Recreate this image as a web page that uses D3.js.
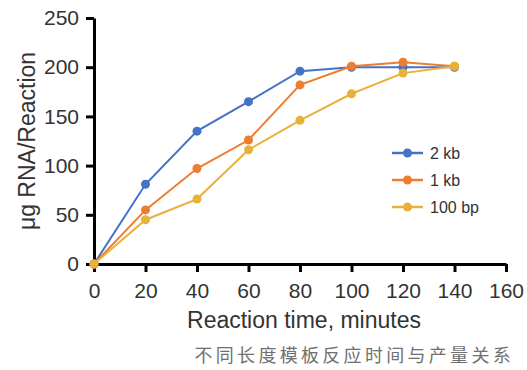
<!DOCTYPE html>
<html>
<head>
<meta charset="utf-8">
<script src="https://cdn.jsdelivr.net/npm/d3@7"></script>
<style>
  body { margin: 0; background: #fff; }
  text { font-family: Arial, "Liberation Sans", sans-serif; fill: #333; }
</style>
</head>
<body>
<div id="chart-container"></div>
<script>
/* Yield vs reaction time for different template lengths */

const minutes = [0, 20, 40, 60, 80, 100, 120, 140];
const kb2 = [0, 81, 135, 165, 196, 200, 200, 200];
const kb1 = [0, 55, 97, 126, 182, 201, 205, 201];
const bp100 = [0, 45, 66, 116, 146, 173, 194, 201];
const seriesNames = ["2 kb", "1 kb", "100 bp"];
const xTicks = [0, 20, 40, 60, 80, 100, 120, 140, 160];
const yTicks = [0, 50, 100, 150, 200, 250];

function create_chart() {
  let height = 370,
    width = 527,
    margin = { top: 18, right: 21, bottom: 106, left: 94 };

  const svg = d3
    .select("#chart-container")
    .append("svg")
    .attr("width", width)
    .attr("height", height);

  let x = d3
    .scaleLinear()
    .domain([0, 160])
    .range([margin.left, width - margin.right]);

  let y = d3
    .scaleLinear()
    .domain([0, 250])
    .range([height - margin.bottom, margin.top]);

  let color = d3
    .scaleOrdinal()
    .domain(seriesNames)
    .range(["#4472C4", "#ED7D31", "#E9B13A"]);

  let series = [kb2, kb1, bp100].map((vals, i) => ({
    name: seriesNames[i],
    values: vals.map((v, j) => ({ t: minutes[j], v: v })),
  }));

  // axes
  const xAxis = svg
    .append("g")
    .attr("transform", `translate(0,${height - margin.bottom})`)
    .call(d3.axisBottom(x).tickValues(xTicks).tickSize(8).tickSizeOuter(0).tickPadding(11));

  const yAxis = svg
    .append("g")
    .attr("transform", `translate(${margin.left},0)`)
    .call(d3.axisLeft(y).tickValues(yTicks).tickSize(8).tickSizeOuter(0).tickPadding(7));

  [xAxis, yAxis].forEach((g) => {
    g.select(".domain").attr("stroke", "#000").attr("stroke-width", 3);
    g.selectAll(".tick line").attr("stroke", "#000").attr("stroke-width", 3);
    g.selectAll(".tick text")
      .attr("font-family", "Arial, 'Liberation Sans', sans-serif")
      .attr("font-size", 21)
      .attr("fill", "#333");
  });

  let line = d3
    .line()
    .x((d) => x(d.t))
    .y((d) => y(d.v));

  series.forEach((s) => {
    svg
      .append("path")
      .datum(s.values)
      .attr("d", line)
      .attr("fill", "none")
      .attr("stroke", color(s.name))
      .attr("stroke-width", 2);

    svg
      .append("g")
      .selectAll("circle")
      .data(s.values)
      .join("circle")
      .attr("cx", (d) => x(d.t))
      .attr("cy", (d) => y(d.v))
      .attr("r", 4.5)
      .attr("fill", color(s.name));
  });

  // legend
  let legend = svg
    .append("g")
    .selectAll("g")
    .data(seriesNames)
    .join("g")
    .attr("transform", (d, i) => `translate(392,${153 + i * 27})`);

  legend
    .append("line")
    .attr("x1", 0)
    .attr("x2", 31)
    .attr("stroke", (d) => color(d))
    .attr("stroke-width", 2.5);

  legend
    .append("circle")
    .attr("cx", 15.5)
    .attr("r", 4.5)
    .attr("fill", (d) => color(d));

  legend
    .append("text")
    .attr("x", 38)
    .attr("dy", "0.35em")
    .attr("font-size", 16)
    .text((d) => d);

  // axis titles
  svg
    .append("text")
    .attr("text-anchor", "middle")
    .attr("x", 304)
    .attr("y", 328)
    .attr("font-size", 23)
    .text("Reaction time, minutes");

  svg
    .append("text")
    .attr("text-anchor", "middle")
    .attr("transform", `translate(35,${(margin.top + height - margin.bottom) / 2}) rotate(-90)`)
    .attr("font-size", 23)
    .text("μg RNA/Reaction");

  // caption
  svg
    .append("text")
    .attr("text-anchor", "end")
    .attr("x", 514)
    .attr("y", 362)
    .attr("font-size", 18)
    .attr("letter-spacing", "3.3px")
    .style("font-family", "'Noto Sans CJK SC', sans-serif")
    .style("fill", "#707070")
    .text("不同长度模板反应时间与产量关系");
}

create_chart();
</script>
</body>
</html>
